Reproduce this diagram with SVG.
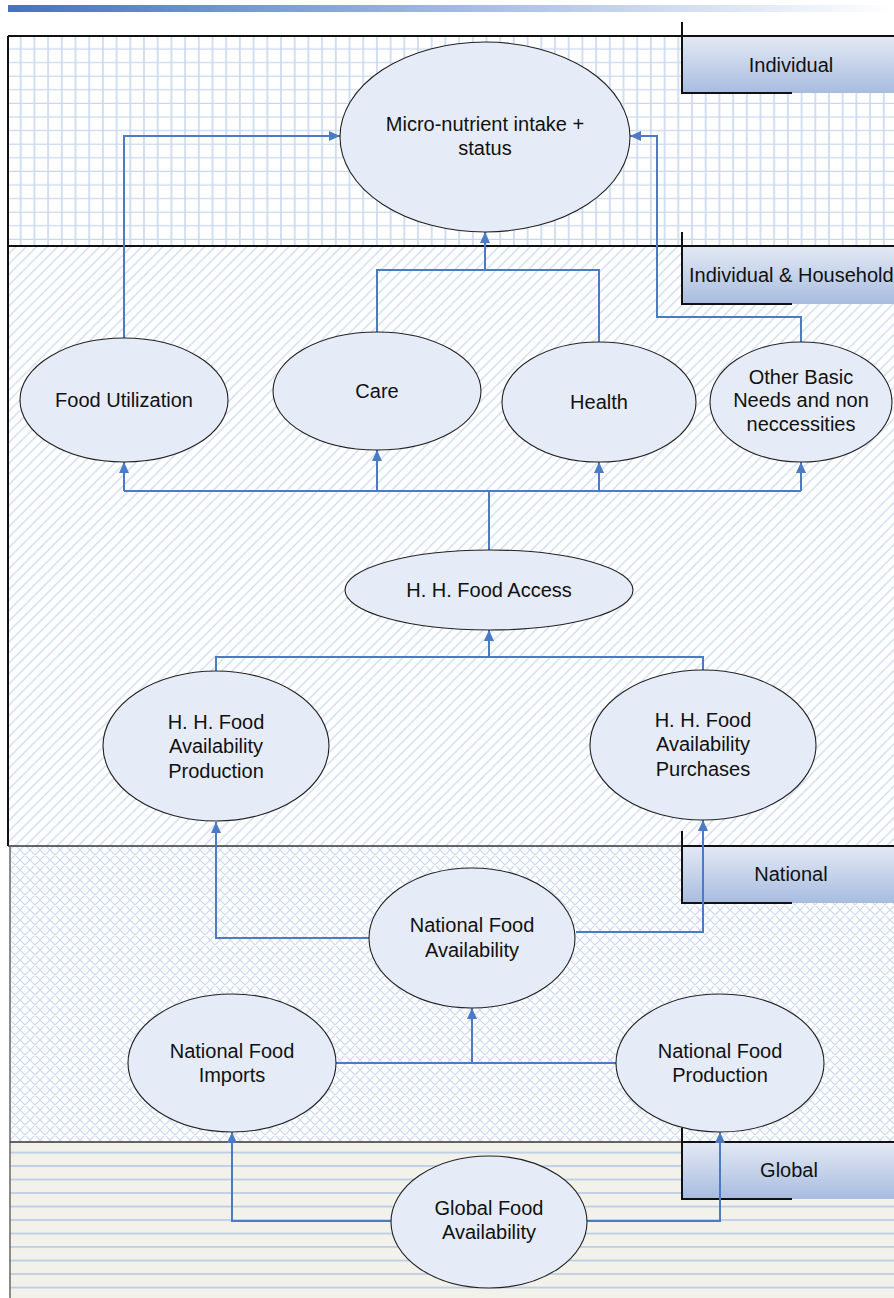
<svg xmlns="http://www.w3.org/2000/svg" width="894" height="1298" viewBox="0 0 894 1298">
<defs>
<linearGradient id="topbar" x1="0" y1="0" x2="1" y2="0">
<stop offset="0" stop-color="#4472c4"/>
<stop offset="1" stop-color="#ffffff"/>
</linearGradient>
<linearGradient id="lab" x1="0" y1="0" x2="0" y2="1">
<stop offset="0" stop-color="#e2e9f4"/>
<stop offset="1" stop-color="#a8bce0"/>
</linearGradient>
<pattern id="grid" x="8" y="36" width="13.7" height="13.6" patternUnits="userSpaceOnUse">
<rect width="13.7" height="13.6" fill="#ffffff"/>
<line x1="12.7" y1="0" x2="12.7" y2="13.6" stroke="#c9d7ef" stroke-width="1.6"/>
<line x1="0" y1="13.2" x2="13.7" y2="13.2" stroke="#c9d7ef" stroke-width="1.6"/>
</pattern>
<pattern id="diag" width="10.5" height="10.5" patternUnits="userSpaceOnUse">
<rect width="10.5" height="10.5" fill="#ffffff"/>
<path d="M-1,11.5 L11.5,-1 M-3,3 L3,-3 M7.5,13.5 L13.5,7.5" stroke="#cbd8ef" stroke-width="1.2"/>
</pattern>
<pattern id="cross" width="10" height="10" patternUnits="userSpaceOnUse">
<rect width="10" height="10" fill="#ffffff"/>
<path d="M-1,11 L11,-1 M-1,-1 L11,11 M-3,3 L3,-3 M7,13 L13,7 M-3,7 L3,13 M7,-3 L13,3" stroke="#ccd8ef" stroke-width="1.2"/>
</pattern>
<pattern id="hlines" x="0" y="1142" width="20" height="13.5" patternUnits="userSpaceOnUse">
<rect width="20" height="13.5" fill="#f2f2ea"/>
<line x1="0" y1="10.5" x2="20" y2="10.5" stroke="#b7c9e7" stroke-width="1.6"/>
</pattern>
<marker id="arr" markerWidth="12" markerHeight="12" refX="11" refY="6" orient="auto" markerUnits="userSpaceOnUse">
<path d="M0,1 L11,6 L0,11 Z" fill="#4a7bc4"/>
</marker>
</defs>
<style>
.ell{fill:#e6ecf7;stroke:#222;stroke-width:1.1}
.t{font-family:"Liberation Sans",Arial,sans-serif;font-size:20px;fill:#111;text-anchor:middle}
.lt{font-family:"Liberation Sans",Arial,sans-serif;font-size:20px;fill:#111}
.c{fill:none;stroke:#4a7bc4;stroke-width:2}
.ca{fill:none;stroke:#4a7bc4;stroke-width:2;marker-end:url(#arr)}
.blk{stroke:#111;stroke-width:2;fill:none}
</style>
<rect x="0" y="0" width="894" height="1298" fill="#ffffff"/>
<rect x="8" y="5" width="886" height="7" fill="url(#topbar)"/>
<g id="regions">
<rect x="8" y="36" width="900" height="210" fill="url(#grid)"/>
<rect x="8" y="246" width="900" height="600" fill="url(#diag)"/>
<rect x="10" y="846" width="900" height="296" fill="url(#cross)"/>
<rect x="10" y="1142" width="900" height="170" fill="url(#hlines)"/>
<path d="M8,36 H894 M8,36 V846" class="blk"/>
<path d="M8,246 H894" class="blk"/>
<path d="M8,846 H894" stroke="#333" stroke-width="1.5"/>
<path d="M10,846 V1298" stroke="#666" stroke-width="1.5"/>
<path d="M10,1142 H894" stroke="#333" stroke-width="1.5"/>
</g>
<g id="labels">
<g id="lab-individual">
<rect x="682" y="37" width="212" height="56" fill="url(#lab)"/>
<path d="M682,22 V93 H792" class="blk"/>
<text class="t" x="791" y="72">Individual</text>
</g>
<g id="lab-household">
<rect x="682" y="247" width="212" height="57" fill="url(#lab)"/>
<path d="M682,232 V304 H792" class="blk"/>
<text class="lt" x="689" y="282">Individual &amp; Household</text>
</g>
<g id="lab-national">
<rect x="682" y="847" width="212" height="56" fill="url(#lab)"/>
<path d="M682,831 V903 H792" class="blk"/>
<path d="M682,846 H894" class="blk"/>
<text class="t" x="791" y="881">National</text>
</g>
<g id="lab-global">
<rect x="682" y="1143" width="212" height="56" fill="url(#lab)"/>
<path d="M682,1128 V1199 H792" class="blk"/>
<path d="M682,1142 H894" class="blk"/>
<text class="t" x="789" y="1177">Global</text>
</g>
</g>
<g id="connectors">
<path class="ca" d="M124,338 V136 H340"/>
<path class="c" d="M377,332 V270 H599 V342"/>
<path class="ca" d="M485,270 V232"/>
<path class="ca" d="M801,342 V317 H657 V136 H630"/>
<path class="c" d="M489,550 V491 M124,491 H801"/>
<path class="ca" d="M124,491 V462"/>
<path class="ca" d="M377,491 V450"/>
<path class="ca" d="M599,491 V462"/>
<path class="ca" d="M801,491 V462"/>
<path class="c" d="M216,671 V657 H703 V670"/>
<path class="ca" d="M489,657 V630"/>
<path class="ca" d="M369,938 H216 V822"/>
<path class="ca" d="M576,932 H703 V820"/>
<path class="c" d="M336,1063 H616"/>
<path class="ca" d="M472,1063 V1008"/>
<path class="ca" d="M391,1221 H232 V1132"/>
<path class="ca" d="M587,1221 H720 V1132"/>
</g>
<g id="n-micro">
<ellipse class="ell" cx="485" cy="137" rx="145" ry="95"/>
<text class="t" x="485" y="131">Micro-nutrient intake +</text>
<text class="t" x="485" y="155">status</text>
</g>
<g id="n-utilization">
<ellipse class="ell" cx="124" cy="400" rx="104" ry="62"/>
<text class="t" x="124" y="407">Food Utilization</text>
</g>
<g id="n-care">
<ellipse class="ell" cx="377" cy="391" rx="104" ry="59"/>
<text class="t" x="377" y="398">Care</text>
</g>
<g id="n-health">
<ellipse class="ell" cx="599" cy="402" rx="97" ry="60"/>
<text class="t" x="599" y="409">Health</text>
</g>
<g id="n-other">
<ellipse class="ell" cx="801" cy="402" rx="91" ry="60"/>
<text class="t" x="801" y="384">Other Basic</text>
<text class="t" x="801" y="407">Needs and non</text>
<text class="t" x="801" y="431">neccessities</text>
</g>
<g id="n-access">
<ellipse class="ell" cx="489" cy="590" rx="144" ry="40"/>
<text class="t" x="489" y="597">H. H. Food Access</text>
</g>
<g id="n-hhprod">
<ellipse class="ell" cx="216" cy="746" rx="113" ry="75"/>
<text class="t" x="216" y="729">H. H. Food</text>
<text class="t" x="216" y="753">Availability</text>
<text class="t" x="216" y="778">Production</text>
</g>
<g id="n-hhpurch">
<ellipse class="ell" cx="703" cy="745" rx="113" ry="75"/>
<text class="t" x="703" y="727">H. H. Food</text>
<text class="t" x="703" y="751">Availability</text>
<text class="t" x="703" y="776">Purchases</text>
</g>
<g id="n-natavail">
<ellipse class="ell" cx="472" cy="938" rx="103" ry="70"/>
<text class="t" x="472" y="932">National Food</text>
<text class="t" x="472" y="957">Availability</text>
</g>
<g id="n-natimp">
<ellipse class="ell" cx="232" cy="1063" rx="104" ry="69"/>
<text class="t" x="232" y="1058">National Food</text>
<text class="t" x="232" y="1082">Imports</text>
</g>
<g id="n-natprod">
<ellipse class="ell" cx="720" cy="1063" rx="104" ry="69"/>
<text class="t" x="720" y="1058">National Food</text>
<text class="t" x="720" y="1082">Production</text>
</g>
<g id="n-global">
<ellipse class="ell" cx="489" cy="1222" rx="98" ry="66"/>
<text class="t" x="489" y="1215">Global Food</text>
<text class="t" x="489" y="1239">Availability</text>
</g>
</svg>
